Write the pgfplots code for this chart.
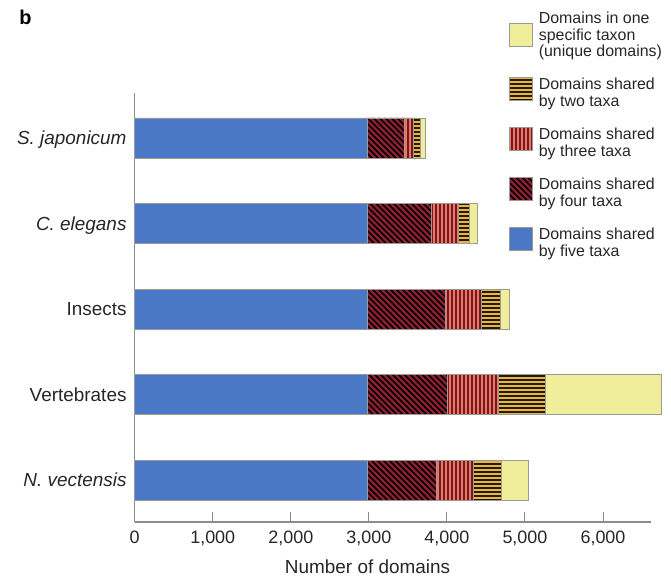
\documentclass[border=0pt]{standalone}
\usepackage{fontspec}
\setmainfont{Liberation Sans}
\usepackage{pgfplots}
\pgfplotsset{compat=1.18}
\usetikzlibrary{patterns.meta}
\definecolor{cfive}{HTML}{4A78C4}
\definecolor{cfour}{HTML}{8E1F30}
\definecolor{cthree}{HTML}{EC7560}
\definecolor{ctwo}{HTML}{E8B83C}
\definecolor{cone}{HTML}{F0EE9A}
\definecolor{axgray}{HTML}{8C8C8C}
\definecolor{bargray}{HTML}{9A9A9A}
\newcommand\legfont{\fontsize{16}{17}\selectfont}
\pgfplotsset{
  legboxA/.style={legend image code/.code={\draw[##1, draw=bargray, line width=0.8bp] (0bp,-11.5bp) rectangle (23bp,11.5bp);}},
  legboxB/.style={legend image code/.code={\draw[##1, draw=bargray, line width=0.8bp] (0bp,-7bp) rectangle (23bp,16bp);}},
}
\begin{document}
\begin{tikzpicture}
\path[use as bounding box] (0,0) rectangle (671bp,576bp);
\node[font=\fontsize{20}{22}\selectfont\bfseries] at (25.5bp,558.5bp) {b};
\begin{axis}[
  at={(134.7bp,54bp)}, anchor=south west,
  scale only axis, width=516.3bp, height=429bp,
  xbar stacked, bar width=40bp,
  xmin=0, xmax=6615, ymin=-0.49, ymax=4.526,
  enlargelimits=false, clip=false,
  axis x line*=bottom, axis y line*=left,
  axis line style={-, draw=axgray, line width=1.2bp},
  xtick={0,1000,2000,3000,4000,5000,6000},
  scaled x ticks=false,
  /pgf/number format/1000 sep={,},
  /pgf/number format/assume math mode=true,
  ytick={0,1,2,3,4},
  yticklabels={\textit{N. vectensis},Vertebrates,Insects,\textit{C. elegans},\textit{S. japonicum}},
  major tick length=10bp, tick align=inside,
  xtick style={draw=axgray, line width=1bp},
  ytick style={draw=none},
  xticklabel style={font=\fontsize{18}{20}\selectfont, text=black!85, inner sep=0pt, anchor=north, yshift=-8.7bp},
  yticklabel style={font=\fontsize{19}{21}\selectfont, text=black!85, inner sep=0pt, anchor=east, xshift=-8bp, text height=13.6bp, text depth=0pt},
  xlabel={Number of domains},
  xlabel style={at={(axis description cs:0.451,0)}, anchor=north, inner sep=0pt, yshift=-37.5bp, font=\fontsize{19}{21}\selectfont, text=black!85},
  legboxB,
  legend style={draw=none, fill=none, at={(axis description cs:0.725,1.1945)}, anchor=north west,
    inner sep=0pt, outer sep=0pt, row sep=16bp, column sep=4bp, font=\legfont,
    cells={align=left, inner sep=0pt, text=black!85}},
  legend cell align=left,
  reverse legend,
]
\addplot[fill=cfive, draw=bargray, line width=0.8bp] coordinates {(2980,0) (2980,1) (2980,2) (2980,3) (2980,4)};
\addlegendentry{Domains shared\\by five taxa}
\addplot[fill=cfour, draw=bargray, line width=0.8bp, postaction={pattern={Lines[angle=-45,distance=4.2bp,line width=1.6bp]}, pattern color=black}] coordinates {(889,0) (1030,1) (996,2) (825,3) (474,4)};
\addlegendentry{Domains shared\\by four taxa}
\addplot[fill=cthree, draw=bargray, line width=0.8bp, postaction={pattern={Lines[angle=90,distance=4bp,line width=1.2bp]}, pattern color=cfour!80!black}] coordinates {(469,0) (649,1) (461,2) (341,3) (116,4)};
\addlegendentry{Domains shared\\by three taxa}
\addplot[fill=ctwo, draw=bargray, line width=0.8bp, postaction={pattern={Lines[angle=0,distance=4bp,line width=1.3bp]}, pattern color=black!80!brown}] coordinates {(364,0) (607,1) (243,2) (137,3) (85,4)};
\addlegendentry{Domains shared\\by two taxa}
\addplot[fill=cone, draw=bargray, line width=0.8bp, legboxA] coordinates {(341,0) (1486,1) (116,2) (112,3) (73,4)};
\addlegendentry{Domains in one\\specific taxon\\\raisebox{0pt}[\height][-5bp]{(unique domains)}}
\end{axis}
\end{tikzpicture}
\end{document}
